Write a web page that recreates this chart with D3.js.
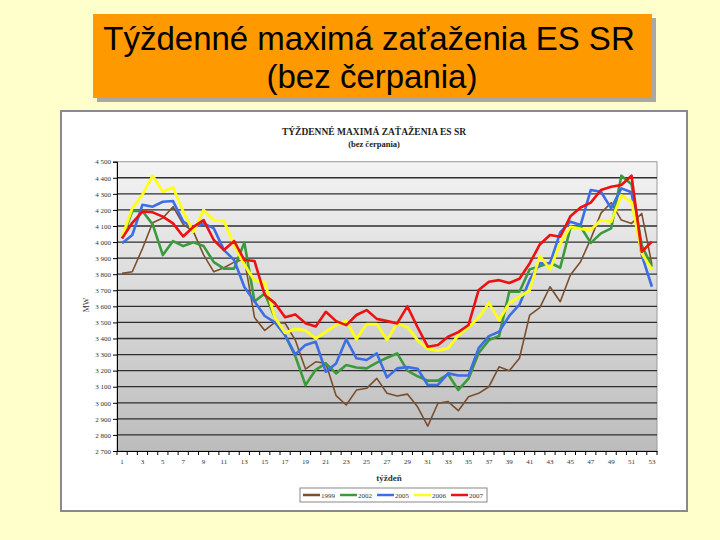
<!doctype html>
<html>
    <head>
        <meta charset="utf-8" />
        <script src="https://d3js.org/d3.v7.min.js"></script>
        <style>
            body,
            html {
                margin: 0;
                padding: 0;
                overflow: hidden;
                background: #ffffcc;
            }
        </style>
    </head>
    <body>
        <script>
            // weekly peak loads, MW
            const weeks = Array.from({ length: 53 }, (_, i) => i + 1);
            const years = ["1999", "2002", "2005", "2006", "2007"];
            const y1999 = [3805, 3815, 3960, 4120, 4150, 4220, 4110, 4065, 3920, 3815, 3840, 3875, 3895, 3530, 3450, 3500, 3495, 3390, 3210, 3255, 3245, 3045, 2986, 3079, 3090, 3152, 3059, 3042, 3054, 2975, 2855, 2997, 3007, 2951, 3038, 3059, 3100, 3224, 3199, 3277, 3545, 3592, 3722, 3629, 3795, 3878, 4020, 4180, 4245, 4137, 4116, 4178, 3860];
            const y2002 = [4023, 4193, 4193, 4110, 3919, 4006, 3975, 3998, 3975, 3875, 3835, 3835, 3998, 3630, 3680, 3530, 3420, 3290, 3110, 3205, 3245, 3183, 3235, 3220, 3214, 3250, 3280, 3307, 3200, 3165, 3138, 3138, 3178, 3080, 3150, 3310, 3390, 3415, 3691, 3691, 3830, 3850, 3872, 3840, 4088, 4095, 3995, 4054, 4085, 4413, 4360, 3980, 3846];
            const y2005 = [3992, 4044, 4232, 4220, 4251, 4255, 4127, 4090, 4116, 4085, 3950, 3888, 3720, 3630, 3540, 3500, 3420, 3300, 3360, 3380, 3193, 3245, 3395, 3277, 3266, 3307, 3158, 3214, 3222, 3212, 3111, 3111, 3183, 3170, 3170, 3340, 3415, 3442, 3540, 3610, 3764, 3868, 3868, 4060, 4127, 4106, 4324, 4313, 4210, 4334, 4310, 3920, 3722];
            const y2006 = [4033, 4210, 4295, 4413, 4313, 4340, 4190, 4065, 4200, 4137, 4130, 3980, 3860, 3760, 3750, 3530, 3435, 3460, 3450, 3400, 3442, 3483, 3510, 3395, 3490, 3490, 3390, 3494, 3470, 3390, 3335, 3325, 3340, 3420, 3470, 3530, 3620, 3515, 3620, 3660, 3700, 3915, 3830, 3990, 4095, 4082, 4075, 4137, 4127, 4290, 4250, 3930, 3830];
            const y2007 = [4023, 4120, 4190, 4185, 4158, 4116, 4035, 4095, 4137, 4013, 3950, 4006, 3888, 3882, 3670, 3620, 3532, 3550, 3495, 3475, 3566, 3508, 3483, 3546, 3577, 3522, 3508, 3494, 3600, 3470, 3349, 3359, 3411, 3440, 3484, 3702, 3753, 3763, 3745, 3772, 3867, 3985, 4044, 4033, 4160, 4215, 4245, 4324, 4344, 4355, 4413, 3940, 4003];
            const yTicks = d3.range(2700, 4501, 100);
            const colors = ["#7b4f2e", "#3c9a3c", "#3d6ee6", "#ffff1a", "#ee1111"];
            const widths = [1.6, 2.6, 2.6, 2.8, 2.6];

            const series = [y1999, y2002, y2005, y2006, y2007].map((v, i) => ({
                year: years[i],
                values: v,
            }));

            const width = 720;
            const height = 540;
            const svg = d3
                .create("svg")
                .attr("width", width)
                .attr("height", height)
                .attr("viewBox", [0, 0, width, height]);

            svg.append("rect")
                .attr("width", width)
                .attr("height", height)
                .attr("fill", "#ffffcc");

            // slide title box
            svg.append("rect")
                .attr("x", 97)
                .attr("y", 18)
                .attr("width", 559)
                .attr("height", 84)
                .attr("fill", "#a8a8a8");
            svg.append("rect")
                .attr("x", 93)
                .attr("y", 14)
                .attr("width", 559)
                .attr("height", 84)
                .attr("fill", "#ff9900");
            const head = svg
                .append("text")
                .attr("text-anchor", "middle")
                .attr("font-family", "Liberation Sans, Arial, sans-serif")
                .attr("font-size", 33)
                .attr("fill", "#000");
            head.append("tspan").attr("x", 369).attr("y", 50).text("Týždenné maximá zaťaženia ES SR");
            head.append("tspan").attr("x", 372).attr("y", 88).text("(bez čerpania)");

            // pasted chart frame
            svg.append("rect")
                .attr("x", 61)
                .attr("y", 111)
                .attr("width", 626)
                .attr("height", 400)
                .attr("fill", "#fff")
                .attr("stroke", "#8a8a8a")
                .attr("stroke-width", 2);

            const serif = "Liberation Serif, Times New Roman, serif";
            svg.append("text")
                .attr("x", 374)
                .attr("y", 135)
                .attr("text-anchor", "middle")
                .attr("font-family", serif)
                .attr("font-weight", "bold")
                .attr("font-size", 9.5)
                .attr("fill", "#222")
                .text("TÝŽDENNÉ MAXIMÁ ZAŤAŽENIA ES SR");
            svg.append("text")
                .attr("x", 374)
                .attr("y", 147)
                .attr("text-anchor", "middle")
                .attr("font-family", serif)
                .attr("font-weight", "bold")
                .attr("font-size", 8.5)
                .attr("fill", "#222")
                .text("(bez čerpania)");

            const x = d3.scaleBand().domain(weeks).range([117, 657]);
            const y = d3.scaleLinear().domain([2700, 4500]).range([451, 161.7]);

            const grad = svg
                .append("defs")
                .append("linearGradient")
                .attr("id", "bg")
                .attr("x1", 0)
                .attr("y1", 0)
                .attr("x2", 0)
                .attr("y2", 1);
            grad.append("stop").attr("offset", 0).attr("stop-color", "#f3f3f3");
            grad.append("stop").attr("offset", 1).attr("stop-color", "#bcbcbc");

            svg.append("rect")
                .attr("x", 117)
                .attr("y", y(4500))
                .attr("width", 540)
                .attr("height", y(2700) - y(4500))
                .attr("fill", "url(#bg)")
                .attr("stroke", "#9a9a9a");

            // gridlines
            svg.append("g")
                .selectAll("line")
                .data(yTicks.filter((d) => d > 2700 && d < 4500))
                .join("line")
                .attr("x1", 117)
                .attr("x2", 657)
                .attr("y1", (d) => y(d))
                .attr("y2", (d) => y(d))
                .attr("stroke", "#2e2e2e")
                .attr("stroke-width", 1.3);

            const fmt = d3.formatLocale({ thousands: " ", grouping: [3], decimal: "," }).format(",");

            const yAxis = svg
                .append("g")
                .attr("transform", "translate(117,0)")
                .call(d3.axisLeft(y).tickValues(yTicks).tickFormat(fmt).tickSize(4).tickPadding(2));
            yAxis.select(".domain").attr("stroke", "#000");
            yAxis.selectAll("text").attr("font-family", serif).attr("font-size", 7).attr("fill", "#333");

            const xAxis = svg
                .append("g")
                .attr("transform", `translate(0,${y(2700)})`)
                .call(
                    d3
                        .axisBottom(x)
                        .tickFormat((d) => (d % 2 === 1 ? d : ""))
                        .tickSize(0)
                        .tickPadding(8)
                );
            xAxis.select(".domain").attr("stroke", "#000");
            xAxis.selectAll("text").attr("font-family", serif).attr("font-size", 7).attr("fill", "#333");
            xAxis
                .append("g")
                .selectAll("line")
                .data(weeks.concat([54]))
                .join("line")
                .attr("x1", (d) => 117 + (d - 1) * x.step())
                .attr("x2", (d) => 117 + (d - 1) * x.step())
                .attr("y1", 0)
                .attr("y2", 4)
                .attr("stroke", "#000");

            svg.append("text")
                .attr("transform", "translate(89,305) rotate(-90)")
                .attr("text-anchor", "middle")
                .attr("font-family", serif)
                .attr("font-size", 8)
                .attr("fill", "#333")
                .text("MW");
            svg.append("text")
                .attr("x", 389)
                .attr("y", 481)
                .attr("text-anchor", "middle")
                .attr("font-family", serif)
                .attr("font-weight", "bold")
                .attr("font-size", 9)
                .attr("fill", "#333")
                .text("týždeň");

            // lines
            const line = d3
                .line()
                .x((d, i) => x(weeks[i]) + x.bandwidth() / 2)
                .y((d) => y(d));
            svg.append("g")
                .selectAll("path")
                .data(series)
                .join("path")
                .attr("fill", "none")
                .attr("stroke", (d, i) => colors[i])
                .attr("stroke-width", (d, i) => widths[i])
                .attr("stroke-linejoin", "round")
                .attr("d", (d) => line(d.values));

            // legend
            const legend = svg.append("g");
            legend
                .append("rect")
                .attr("x", 300)
                .attr("y", 488)
                .attr("width", 187)
                .attr("height", 14)
                .attr("fill", "#fff")
                .attr("stroke", "#888");
            const item = legend
                .selectAll("g")
                .data(years)
                .join("g")
                .attr("transform", (d, i) => `translate(${303 + i * 37},495)`);
            item.append("line")
                .attr("x1", 0)
                .attr("x2", 17)
                .attr("stroke", (d, i) => colors[i])
                .attr("stroke-width", 2.5);
            item.append("text")
                .attr("x", 18)
                .attr("y", 2.5)
                .attr("font-family", serif)
                .attr("font-size", 7)
                .attr("fill", "#333")
                .text((d) => d);

            document.body.appendChild(svg.node());
        </script>
    </body>
</html>
